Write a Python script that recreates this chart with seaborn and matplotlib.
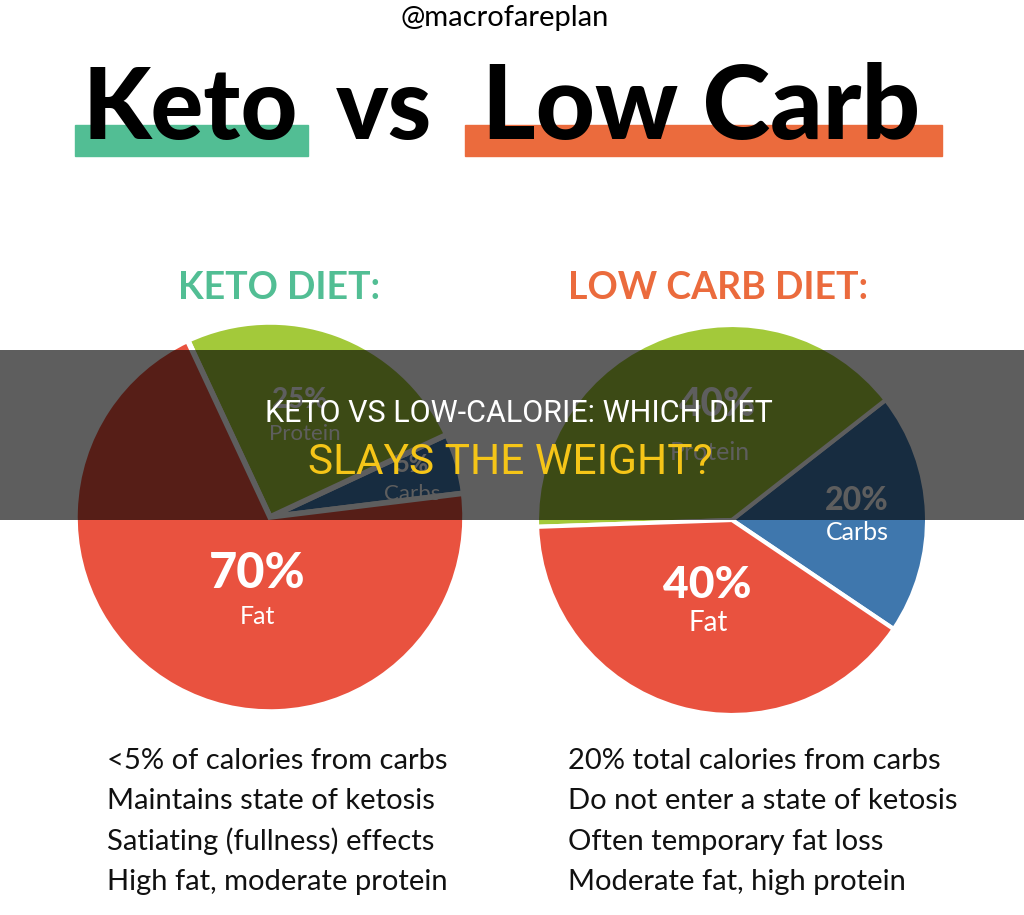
"""
Keto vs Low Carb infographic - two macro pies with a caption banner
"""
import matplotlib
matplotlib.use('Agg')
import matplotlib.pyplot as plt
from matplotlib.patches import Rectangle
import seaborn as sns

sns.set_theme(style='white')
plt.rcParams['font.family'] = ['Lato', 'DejaVu Sans']

# ---- data ----
macros = ['Carbs', 'Protein', 'Fat']
keto_pct = [5, 25, 70]
lowcarb_pct = [20, 40, 40]
macro_colors = ['#3F77AD', '#A3C93A', '#E9523F']

title_words = ['Keto', 'vs', 'Low Carb']
keto_notes = ['<5% of calories from carbs',
              'Maintains state of ketosis',
              'Satiating (fullness) effects',
              'High fat, moderate protein']
lowcarb_notes = ['20% total calories from carbs',
                 'Do not enter a state of ketosis',
                 'Often temporary fat loss',
                 'Moderate fat, high protein']

W, H = 1024, 915
fig = plt.figure(figsize=(W / 100, H / 100), dpi=100)
fig.patch.set_facecolor('white')
ax = fig.add_axes([0, 0, 1, 1])


def Y(y):
    # image rows -> axis y (origin bottom)
    return H - y


# ---- header ----
ax.text(505, Y(18), '@macrofareplan', ha='center', va='center',
        fontsize=21, color='black')
ax.add_patch(Rectangle((75, Y(156)), 233, 31, color='#52BE94', zorder=1))
ax.add_patch(Rectangle((465, Y(156)), 477, 31, color='#EB6B3D', zorder=1))
# word centres / sizes for the big title
for word, xc, fs in zip(title_words, [190, 384, 701], [71, 71, 74]):
    ax.text(xc, Y(139), word, ha='center', va='baseline',
            fontsize=fs, fontweight='black', color='black', zorder=2)

ax.text(279, Y(288), 'KETO DIET:', ha='center', va='center',
        fontsize=27, fontweight='bold', color='#52BE94')
ax.text(718, Y(288), 'LOW CARB DIET:', ha='center', va='center',
        fontsize=27, fontweight='bold', color='#EB6B3D')

# ---- pies ----
ax.pie(keto_pct, colors=macro_colors, startangle=7, counterclock=True,
       center=(270, Y(517)), radius=195, explode=[0.03, 0.02, 0],
       wedgeprops=dict(edgecolor='white', linewidth=4), frame=True)
ax.pie(lowcarb_pct, colors=macro_colors, startangle=-34, counterclock=True,
       center=(732, Y(520)), radius=195, explode=[0.05, 0, 0],
       wedgeprops=dict(edgecolor='white', linewidth=3), frame=True)

# pie labels: (pct x, pct y, name x, name y, pct size, name size)
keto_pos = [(412, 464, 412, 494, 17, 16),
            (300, 400, 305, 434, 20, 16),
            (257, 573, 257, 617, 35, 18)]
low_pos = [(857, 501, 857, 533, 23, 18),
           (717, 405, 710, 452, 28, 18),
           (707, 585, 708, 623, 32, 20)]
for pcts, pos in [(keto_pct, keto_pos), (lowcarb_pct, low_pos)]:
    for name, p, (px_, py_, nx, ny, s1, s2) in zip(macros, pcts, pos):
        ax.text(px_, Y(py_), f'{p}%', ha='center', va='center',
                fontsize=s1, fontweight='black', color='white')
        ax.text(nx, Y(ny), name, ha='center', va='center',
                fontsize=s2, color='white')

# ---- notes ----
for i, (a, b) in enumerate(zip(keto_notes, lowcarb_notes)):
    y = 761 + i * 40.3
    ax.text(107, Y(y), a, ha='left', va='center', fontsize=21, color='#111111')
    ax.text(568, Y(y), b, ha='left', va='center', fontsize=21, color='#111111')

# ---- banner ----
ax.add_patch(Rectangle((0, Y(520)), W, 170, color='black', alpha=0.63,
                       zorder=10, linewidth=0))
ax.text(519, Y(413), 'KETO VS LOW-CALORIE: WHICH DIET', ha='center',
        va='center', fontsize=22, color='white', family='Roboto', zorder=11)
ax.text(510, Y(462), 'SLAYS THE WEIGHT?', ha='center', va='center',
        fontsize=30.5, color='#F5C518', family='Roboto', zorder=11)

ax.set_xlim(0, W)
ax.set_ylim(0, H)
ax.set_aspect('equal')
ax.axis('off')

fig.savefig('out.png', dpi=100, facecolor='white')
